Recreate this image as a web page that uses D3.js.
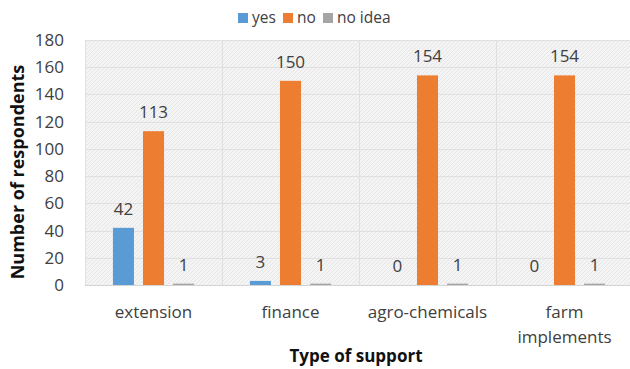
<!DOCTYPE html>
<html>
<head>
<meta charset="utf-8">
<script src="https://cdn.jsdelivr.net/npm/d3@7"></script>
<style>
  html, body { margin: 0; padding: 0; background: #fff; }
  svg { display: block; }
  text { font-family: "Open Sans", "Liberation Sans", sans-serif; fill: #404040; }
</style>
</head>
<body>
<svg id="chart" width="630" height="369"></svg>
<script>
// Survey responses by type of support
const categories = ["extension", "finance", "agro-chemicals", "farm implements"];
const categoryLines = [["extension"], ["finance"], ["agro-chemicals"], ["farm", "implements"]];
const seriesNames = ["yes", "no", "no idea"];
const yesValues = [42, 3, 0, 0];
const noValues = [113, 150, 154, 154];
const noIdeaValues = [1, 1, 1, 1];
const yTicks = [0, 20, 40, 60, 80, 100, 120, 140, 160, 180];
const colors = ["#5B9BD5", "#ED7D31", "#A5A5A5"];

const seriesValues = [yesValues, noValues, noIdeaValues];

const svg = d3.select("#chart");
const plot = { left: 85, right: 633, top: 40, bottom: 285 };

// hatched light-gray plot background
const defs = svg.append("defs");
const pat = defs.append("pattern")
  .attr("id", "hatch").attr("width", 4).attr("height", 4)
  .attr("patternUnits", "userSpaceOnUse");
pat.append("rect").attr("width", 4).attr("height", 4).attr("fill", "#f4f4f4");
pat.append("path").attr("d", "M0,4 L4,0").attr("stroke", "#e6e6e6").attr("stroke-width", 1);

const x = d3.scaleBand().domain(categories).range([plot.left, plot.right]).padding(0);
const xs = d3.scaleBand().domain(seriesNames).range([0, x.bandwidth()])
  .paddingInner(0.3).paddingOuter(0.93);
const y = d3.scaleLinear().domain([0, 180]).range([plot.bottom, plot.top]);

svg.append("rect")
  .attr("x", plot.left).attr("y", plot.top)
  .attr("width", plot.right - plot.left).attr("height", plot.bottom - plot.top)
  .attr("fill", "url(#hatch)");

// horizontal gridlines
svg.append("g").selectAll("line").data(yTicks).join("line")
  .attr("x1", plot.left).attr("x2", plot.right)
  .attr("y1", d => Math.round(y(d)) + 0.5).attr("y2", d => Math.round(y(d)) + 0.5)
  .attr("stroke", d => d === 0 ? "#d4d4d4" : "#e0e0e0").attr("stroke-width", 1);

// vertical category separators
svg.append("g").selectAll("line").data(categories).join("line")
  .attr("x1", d => Math.round(x(d)) + 0.5).attr("x2", d => Math.round(x(d)) + 0.5)
  .attr("y1", plot.top).attr("y2", plot.bottom)
  .attr("stroke", "#e0e0e0").attr("stroke-width", 1);

// y axis tick labels
const yAxis = d3.axisLeft(y).tickValues(yTicks).tickSize(0).tickPadding(0);
const gy = svg.append("g").attr("transform", `translate(64,0)`).call(yAxis);
gy.select(".domain").remove();
gy.selectAll("text").style("font-size", "17px").attr("fill", "#404040")
  .style("font-family", "'Open Sans', sans-serif");

// bars
const groups = svg.append("g").selectAll("g").data(categories).join("g")
  .attr("transform", d => `translate(${x(d)},0)`);

seriesNames.forEach((s, si) => {
  groups.append("rect")
    .attr("x", xs(s))
    .attr("width", xs.bandwidth())
    .attr("y", (d, i) => y(seriesValues[si][i]))
    .attr("height", (d, i) => y(0) - y(seriesValues[si][i]))
    .attr("fill", colors[si]);
  groups.append("text")
    .attr("x", xs(s) + xs.bandwidth() / 2)
    .attr("y", (d, i) => y(seriesValues[si][i]) - 13)
    .attr("text-anchor", "middle")
    .style("font-size", "17px")
    .text((d, i) => seriesValues[si][i]);
});

// category labels
const xl = svg.append("g").selectAll("text").data(categories).join("text")
  .attr("x", d => x(d) + x.bandwidth() / 2)
  .attr("y", 318)
  .attr("text-anchor", "middle")
  .style("font-size", "17px");
xl.each(function(d, i) {
  const t = d3.select(this);
  categoryLines[i].forEach((line, li) => {
    t.append("tspan").attr("x", x(d) + x.bandwidth() / 2)
      .attr("dy", li === 0 ? 0 : 25).text(line);
  });
});

// axis titles
svg.append("text")
  .attr("x", 356).attr("y", 362)
  .attr("text-anchor", "middle")
  .style("font-size", "17px").style("font-weight", "bold")
  .style("fill", "#111")
  .text("Type of support");

svg.append("text")
  .attr("transform", "translate(24,172) rotate(-90)")
  .attr("text-anchor", "middle")
  .style("font-size", "18px").style("font-weight", "bold")
  .style("fill", "#111")
  .text("Number of respondents");

// legend
const legendX = [238, 283, 323];
const legend = svg.append("g").selectAll("g").data(seriesNames).join("g")
  .attr("transform", (d, i) => `translate(${legendX[i]},13)`);
legend.append("rect").attr("width", 10).attr("height", 10)
  .attr("fill", (d, i) => colors[i]);
legend.append("text").attr("x", 14).attr("y", 10)
  .style("font-size", "15.5px").text(d => d);
</script>
</body>
</html>
